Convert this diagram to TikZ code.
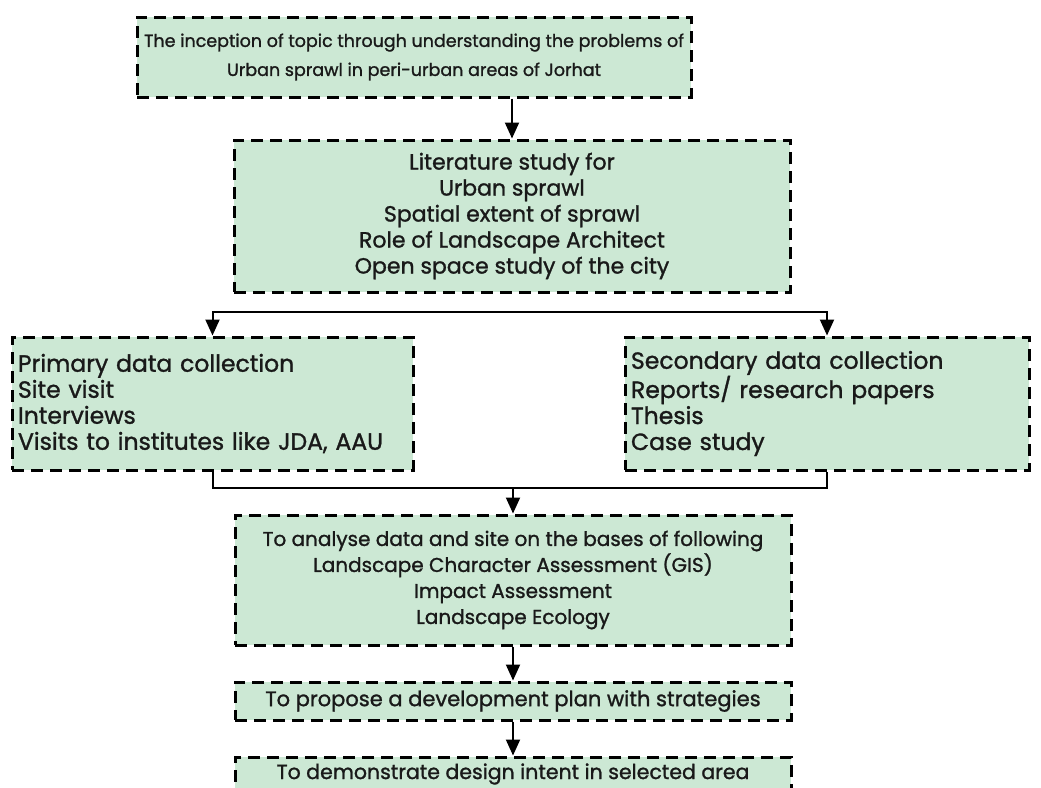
\documentclass[tikz,border=0pt]{standalone}
\usepackage{fontspec}
\setmainfont{Poppins}
\newfontfamily\boxfont{Poppins}[FakeBold=1.2]
\usepackage{tikz}
\usetikzlibrary{positioning}
\usetikzlibrary{arrows.meta, calc}
\definecolor{boxgreen}{RGB}{204,232,212}

\begin{document}
\begin{tikzpicture}[x=1pt,y=-1pt]

 \tikzset{dashed box/.style={
 		draw=black,
 		fill=boxgreen,
 		line width=3pt,
 		dash pattern=on 12pt off 7pt,
 		minimum width=#1,
 		inner sep=5pt,
 		align=center,
 		text=black!90,
 		font=\boxfont\fontsize{17.5}{26}\selectfont
 	},
 	dashed box/.default=556pt,
 	text size/.style={font=\boxfont\fontsize{#1}{26}\selectfont},
 	list box/.style={
 		dashed box=#1,
 		align=left,
 		text width=#1-12pt,
 		text size=23.5
 	},
 	flow arrow/.style={
 		draw=black,
 		line width=2pt,
 		-{Triangle[width=14pt,length=16pt]}
 	},
 	flow line/.style={
 		draw=black,
 		line width=2pt
 	}
 }
 \path[use as bounding box, clip] (0,0) rectangle (1041,787);

 \node[dashed box=554pt, minimum height=80pt] (inception) at (414,57)
 	{The inception of topic through understanding the problems of\\[3pt]
 	 Urban sprawl in peri-urban areas of Jorhat};
 \node[dashed box, text size=22, minimum height=152pt] (literature) at (512,216)
 	{Literature study for\\ Urban sprawl\\ Spatial extent of sprawl\\
 	 Role of Landscape Architect\\ Open space study of the city};
 \node[list box=401pt, minimum height=133pt] (primary) at (212.5,403.5)
 	{Primary data collection\\ Site visit\\ Interviews\\
 	 Visits to institutes like JDA, AAU};
 \node[list box=404pt, minimum height=133pt] (secondary) at (827,403.5)
 	{Secondary data collection\\ Reports/ research papers\\ Thesis\\
 	 Case study};
 \node[dashed box, text size=20, minimum height=130pt] (analyse) at (513,580)
 	{To analyse data and site on the bases of following\\
 	 Landscape Character Assessment (GIS)\\ Impact Assessment\\
 	 Landscape Ecology};
 \node[dashed box, text size=21, minimum height=38pt] (propose) at (513,701)
 	{To propose a development plan with strategies};
 \node[dashed box, text size=20.5, minimum height=34pt] (demonstrate) at (513,774)
 	{To demonstrate design intent in selected area};

 \coordinate (split) at (512,312);
 \coordinate (merge) at (513,488);

 \draw[flow arrow] (literature.north |- inception.south) -- (literature.north);
 \draw[flow arrow] (split) -| (primary.north);
 \draw[flow arrow] (split) -| (secondary.north);
 \draw[flow line] (primary.south) |- (secondary.south |- merge) -- (secondary.south);
 \draw[flow arrow] (merge) -- (analyse.north);
 \draw[flow arrow] (analyse.south) -- (propose.north);
 \draw[flow arrow] (propose.south) -- (demonstrate.north);
\end{tikzpicture}
\end{document}
